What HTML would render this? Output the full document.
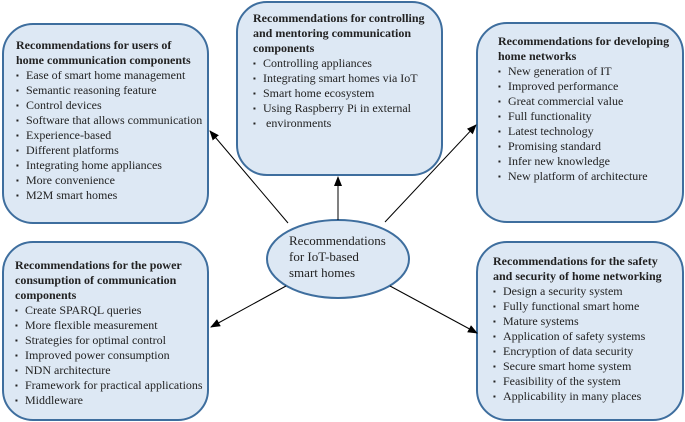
<!DOCTYPE html>
<html><head><style>
body{margin:0;width:685px;height:422px;background:#fff;position:relative;overflow:hidden;font-family:"Liberation Serif",serif;font-size:12px;color:#222}
.t{position:absolute;line-height:15px;white-space:nowrap}
.t b{display:block;font-weight:bold}
.t ul{margin:0;padding:0;list-style:none}
.t li{padding-left:10px;position:relative}
.t li:before{content:"▪";position:absolute;left:0;font-size:8px}
</style></head><body>
<svg width="685" height="422" style="position:absolute;left:0;top:0">
<defs><marker id="a" markerWidth="10" markerHeight="8" refX="9" refY="4" orient="auto" markerUnits="userSpaceOnUse"><path d="M0,0L10,4L0,8z" fill="#000"/></marker></defs>
<g fill="#dde8f4" stroke="#3e6e9e" stroke-width="2">
<rect x="3" y="24" width="205" height="199" rx="30"/>
<rect x="237" y="2" width="205" height="173" rx="30"/>
<rect x="477" y="23" width="206" height="199" rx="30"/>
<rect x="3" y="242" width="205" height="178" rx="30"/>
<rect x="477" y="242" width="206" height="178" rx="30"/>
<ellipse cx="338" cy="259" rx="71" ry="39"/>
</g>
<g stroke="#000" stroke-width="1" marker-end="url(#a)">
<line x1="338" y1="220" x2="338" y2="177"/>
<line x1="288" y1="223" x2="210" y2="131"/>
<line x1="385" y1="222" x2="476" y2="125"/>
<line x1="286" y1="286" x2="211" y2="327"/>
<line x1="390" y1="286" x2="477" y2="333"/>
</g>
</svg>
<div class="t" style="left:16px;top:38px"><b>Recommendations for users of</b><b>home communication components</b><ul>
<li>Ease of smart home management</li><li>Semantic reasoning feature</li><li>Control devices</li><li>Software that allows communication</li><li>Experience-based</li><li>Different platforms</li><li>Integrating home appliances</li><li>More convenience</li><li>M2M smart homes</li></ul></div>
<div class="t" style="left:253px;top:11px"><b>Recommendations for controlling</b><b>and mentoring communication</b><b>components</b><ul>
<li>Controlling appliances</li><li>Integrating smart homes via IoT</li><li>Smart home ecosystem</li><li>Using Raspberry Pi in external</li><li style="">&nbsp;environments</li></ul></div>
<div class="t" style="left:498px;top:34px"><b>Recommendations for developing</b><b>home networks</b><ul>
<li>New generation of IT</li><li>Improved performance</li><li>Great commercial value</li><li>Full functionality</li><li>Latest technology</li><li>Promising standard</li><li>Infer new knowledge</li><li>New platform of architecture</li></ul></div>
<div class="t" style="left:15px;top:258px"><b>Recommendations for the power</b><b>consumption of communication</b><b>components</b><ul>
<li>Create SPARQL queries</li><li>More flexible measurement</li><li>Strategies for optimal control</li><li>Improved power consumption</li><li>NDN architecture</li><li>Framework for practical applications</li><li>Middleware</li></ul></div>
<div class="t" style="left:493px;top:254px"><b>Recommendations for the safety</b><b>and security of home networking</b><ul>
<li>Design a security system</li><li>Fully functional smart home</li><li>Mature systems</li><li>Application of safety systems</li><li>Encryption of data security</li><li>Secure smart home system</li><li>Feasibility of the system</li><li>Applicability in many places</li></ul></div>
<div class="t" style="left:289px;top:233px;font-size:13px;line-height:16px">Recommendations<br>for IoT-based<br>smart homes</div>
</body></html>
